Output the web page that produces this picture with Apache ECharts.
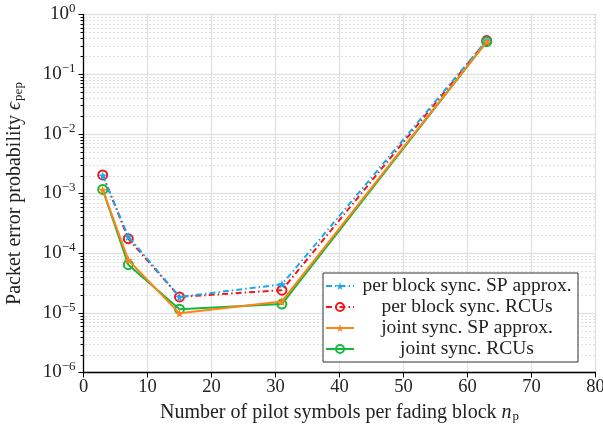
<!DOCTYPE html>
<html><head><meta charset="utf-8">
<script src="https://cdn.jsdelivr.net/npm/echarts@6/dist/echarts.min.js"></script>
<style>html,body{margin:0;padding:0;background:#fff}#c{width:603px;height:424px}</style>
</head><body><div id="c"></div>
<script>
const pilots = [3, 7, 15, 31, 63];
const perBlockSP = [2.0e-3, 1.9e-4, 1.85e-5, 3.0e-5, 0.37];
const perBlockRCU = [2.05e-3, 1.75e-4, 1.85e-5, 2.4e-5, 0.365];
const jointSP = [1.15e-3, 7.7e-5, 9.8e-6, 1.55e-5, 0.35];
const jointRCU = [1.17e-3, 6.4e-5, 1.15e-5, 1.4e-5, 0.35];
const seriesNames = ['per block sync. SP approx.', 'per block sync. RCUs', 'joint sync. SP approx.', 'joint sync. RCUs'];
const xTicks = [0, 10, 20, 30, 40, 50, 60, 70, 80];

const FONT = 'Liberation Serif';
const STAR = 'path://M50,0 L61,35 L98,35 L68,57 L79,91 L50,70 L21,91 L32,57 L2,35 L39,35 Z';
const pair = v => pilots.map((x, i) => [x, v[i]]);

// minor gridline positions (styling, 2..9 x 10^n)
const minorVals = [];
for (let e = -6; e < 0; e++) for (let k = 2; k <= 9; k++) minorVals.push([0, k * Math.pow(10, e)]);

const chart = echarts.init(document.getElementById('c'), null, {renderer: 'canvas'});
const dashDot = [6, 3, 1.5, 3];
const titleRich = {
  n: {fontFamily: FONT, fontSize: 20, color: '#222'},
  i: {fontFamily: FONT, fontSize: 20, fontStyle: 'italic', color: '#222'},
  sub: {fontFamily: FONT, fontSize: 13, color: '#222', padding: [9, 0, 0, 1]}
};
chart.setOption({
  animation: false,
  backgroundColor: '#fff',
  grid: {left: 83.5, right: 7.5, top: 14.5, bottom: 51.5, show: true, borderColor: '#444', borderWidth: 1,
         containLabel: false, outerBoundsMode: 'none'},
  xAxis: {
    type: 'value', min: xTicks[0], max: xTicks[xTicks.length - 1], interval: 10,
    name: '{n|Number of pilot symbols per fading block }{i|n}{sub|p}',
    nameLocation: 'middle', nameGap: 29,
    nameTextStyle: {rich: titleRich},
    axisLine: {show: true, lineStyle: {color: '#000', width: 1.3}},
    axisTick: {show: true, inside: false, length: 5, lineStyle: {color: '#000'}},
    axisLabel: {fontFamily: FONT, fontSize: 18.5, color: '#222', margin: 5},
    splitLine: {show: true, lineStyle: {color: '#e2e2e2', width: 1.3}}
  },
  yAxis: {
    type: 'log', logBase: 10, min: 1e-6, max: 1, interval: 1,
    name: '{n|Packet error probability }{i|ϵ}{sub|pep}',
    nameLocation: 'middle', nameGap: 58,
    nameTextStyle: {rich: titleRich},
    axisLine: {show: true, lineStyle: {color: '#000', width: 1.3}},
    axisTick: {show: true, inside: false, length: 5, lineStyle: {color: '#000'}},
    axisLabel: {
      margin: 8,
      formatter: v => {
        const e = Math.round(Math.log10(v));
        return '{b|10}{s|' + (e < 0 ? '\u2212' + (-e) : e) + '}';
      },
      rich: {
        b: {fontFamily: FONT, fontSize: 19, color: '#222'},
        s: {fontFamily: FONT, fontSize: 13, color: '#222', padding: [0, 0, 11, 0]}
      }
    },
    splitLine: {show: true, lineStyle: {color: '#e2e2e2', width: 1.3}}
  },
  legend: {
    data: seriesNames, orient: 'vertical', left: 323, top: 273,
    backgroundColor: '#fff', borderColor: '#333', borderWidth: 1, borderRadius: 0,
    padding: [3, 3, 3, 2], itemGap: 1, itemWidth: 28, itemHeight: 10,
    formatter: n => '{t|' + n + '}',
    textStyle: {rich: {t: {fontFamily: FONT, fontSize: 19.5, color: '#222', width: 216, align: 'center', lineHeight: 21}}}
  },
  series: [
    {type: 'custom', name: 'minor', silent: true, clip: false, z: 1,
     data: minorVals,
     renderItem: (params, api) => {
       const cs = params.coordSys;
       const y = Math.round(api.coord([0, api.value(1)])[1]) + 0.5;
       return {type: 'group', children: [
         {type: 'line', shape: {x1: cs.x + 2, y1: y, x2: cs.x + cs.width, y2: y},
          style: {stroke: '#cacaca', lineWidth: 1.2, lineDash: [1.2, 2.8]}},
         {type: 'line', shape: {x1: cs.x - 3, y1: y, x2: cs.x, y2: y}, style: {stroke: '#000', lineWidth: 1}}
       ]};
     }},
    {type: 'line', name: seriesNames[0], data: pair(perBlockSP), z: 5,
     symbol: STAR, symbolSize: 9, showSymbol: true,
     lineStyle: {color: '#1ba9ec', width: 2, type: dashDot},
     itemStyle: {color: '#1ba9ec'}},
    {type: 'line', name: seriesNames[1], data: pair(perBlockRCU), z: 4,
     symbol: 'circle', symbolSize: 9,
     lineStyle: {color: '#f01818', width: 2, type: dashDot},
     itemStyle: {color: 'rgba(0,0,0,0)', borderColor: '#f01818', borderWidth: 2}},
    {type: 'line', name: seriesNames[2], data: pair(jointSP), z: 5,
     symbol: STAR, symbolSize: 9,
     lineStyle: {color: '#ff8418', width: 2},
     itemStyle: {color: '#ff8418'}},
    {type: 'line', name: seriesNames[3], data: pair(jointRCU), z: 4,
     symbol: 'circle', symbolSize: 9,
     lineStyle: {color: '#14b83c', width: 2},
     itemStyle: {color: 'rgba(0,0,0,0)', borderColor: '#14b83c', borderWidth: 2}}
  ]
});
</script></body></html>
